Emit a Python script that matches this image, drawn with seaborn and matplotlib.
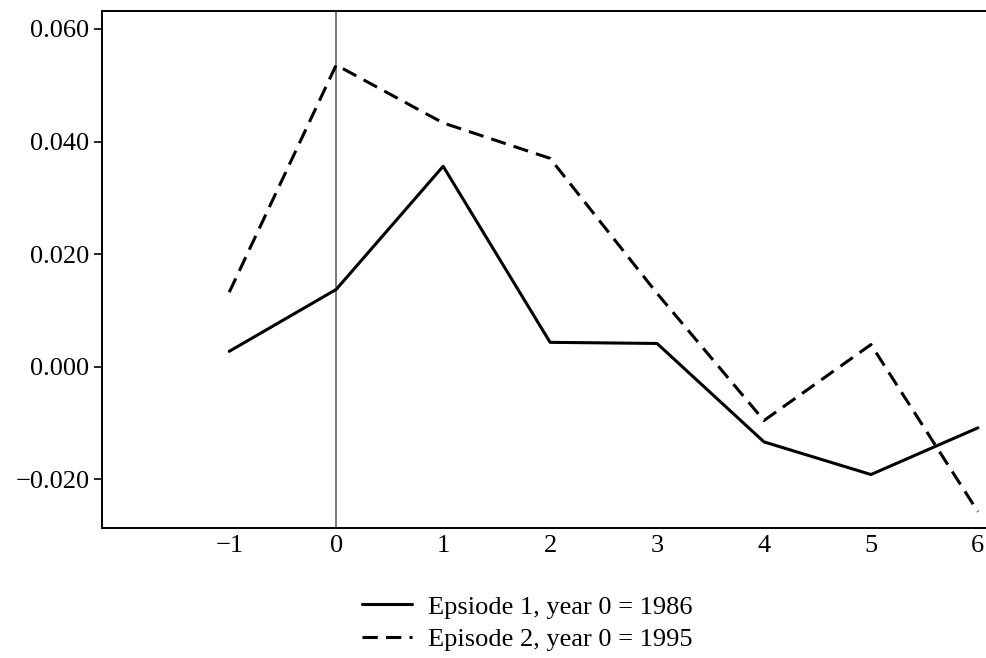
import pandas as pd
import seaborn as sns
import matplotlib.pyplot as plt

years = [-1, 0, 1, 2, 3, 4, 5, 6]
episode1 = [0.0027, 0.0137, 0.0356, 0.0043, 0.0041, -0.0134, -0.0192, -0.0109]
episode2 = [0.0132, 0.0536, 0.0433, 0.0370, 0.0130, -0.0096, 0.0039, -0.0258]
labels = ['Epsiode 1, year 0 = 1986', 'Episode 2, year 0 = 1995']
yticks = [-0.02, 0.0, 0.02, 0.04, 0.06]
ytick_labels = ['\u22120.020', '0.000', '0.020', '0.040', '0.060']
xtick_labels = ['\u22121', '0', '1', '2', '3', '4', '5', '6']

df = pd.DataFrame({
    'year': years * 2,
    'value': episode1 + episode2,
    'episode': [labels[0]] * len(years) + [labels[1]] * len(years),
})

sns.set_style('white')
plt.rcParams['font.family'] = ['Liberation Serif', 'DejaVu Serif']
plt.rcParams['text.color'] = 'black'
plt.rcParams['xtick.color'] = 'black'
plt.rcParams['ytick.color'] = 'black'

fig = plt.figure(figsize=(9.87, 6.58), dpi=100)
ax = fig.add_axes([0.1033, 0.1976, 0.8967, 0.7857])

ax.axvline(0, color='#555555', lw=1.1, zorder=1)
sns.lineplot(data=df, x='year', y='value', style='episode', color='black',
             dashes={labels[0]: '', labels[1]: (5, 2.7)}, lw=2.2, ax=ax,
             legend=True)

ax.set_xlim(-2.19, 6.085)
ax.set_ylim(-0.0287, 0.0632)
ax.set_xticks(years)
ax.set_xticklabels(xtick_labels, fontsize=19)
ax.set_yticks(yticks)
ax.set_yticklabels(ytick_labels, fontsize=19)
ax.tick_params(axis='y', length=6, width=1.2, direction='out', left=True, pad=3)
ax.tick_params(axis='x', length=0, pad=5)
ax.set_xlabel('')
ax.set_ylabel('')

for side in ['left', 'bottom', 'top']:
    ax.spines[side].set_color('black')
    ax.spines[side].set_linewidth(1.4)
ax.spines['right'].set_visible(False)

handles, lbls = ax.get_legend_handles_labels()
ax.get_legend().remove()
fig.legend(handles, lbls, loc='center', bbox_to_anchor=(0.534, 0.053),
           frameon=False, fontsize=19, handlelength=1.9, handletextpad=0.6,
           labelspacing=0.35)

fig.savefig('out.png', dpi=100)
